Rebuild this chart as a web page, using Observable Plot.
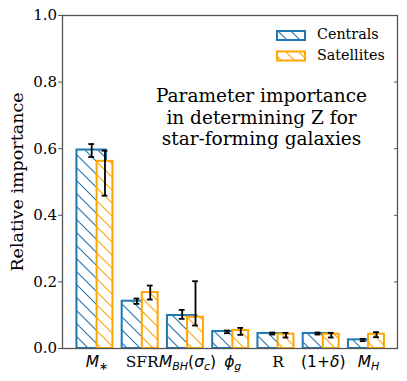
<!DOCTYPE html>
<html><head><meta charset="utf-8">
<script src="https://cdn.jsdelivr.net/npm/d3@7"></script>
<script src="https://cdn.jsdelivr.net/npm/@observablehq/plot@0.6"></script>
<style>body{margin:0;background:#fff} #chart{width:407px;height:381px}</style>
</head><body><div id="chart"></div>
<script>
const categories = ["M*", "SFR", "MBH(σc)", "φg", "R", "(1+δ)", "MH"];
const centrals     = [0.596, 0.142, 0.099, 0.051, 0.045, 0.045, 0.026];
const centralsLo   = [0.575, 0.134, 0.089, 0.046, 0.042, 0.042, 0.022];
const centralsHi   = [0.614, 0.150, 0.116, 0.054, 0.048, 0.048, 0.029];
const satellites   = [0.562, 0.168, 0.094, 0.054, 0.043, 0.043, 0.043];
const satellitesLo = [0.459, 0.147, 0.069, 0.041, 0.033, 0.033, 0.034];
const satellitesHi = [0.594, 0.189, 0.202, 0.062, 0.047, 0.047, 0.049];
const yTicks = [0, 0.2, 0.4, 0.6, 0.8, 1.0];
const seriesNames = ["Centrals", "Satellites"];
const yLabel = "Relative importance";
const annotation = "Parameter importance\nin determining Z for\nstar-forming galaxies";

const BLUE = "#1f77b4", ORANGE = "#ffa500";
const SERIF = "'DejaVu Serif', 'Liberation Serif', serif";
const rows = categories.map((c, i) => ({
  i, c,
  cv: centrals[i], clo: centralsLo[i], chi: centralsHi[i],
  sv: satellites[i], slo: satellitesLo[i], shi: satellitesHi[i]
}));
// bar geometry (in category units)
const cOff = -0.117, cHalf = 0.326, sOff = 0.177, sHalf = 0.175, cap = 0.064;

const hatch = (id, color) => `<pattern id="${id}" patternUnits="userSpaceOnUse" width="13" height="13">
  <rect width="13" height="13" fill="white"/>
  <path d="M0,0L13,13M-2,11L2,15M11,-2L15,2" stroke="${color}" stroke-width="1.1" fill="none"/>
</pattern>`;

const errStyle = {stroke: "black", strokeWidth: 1.8};

const plot = Plot.plot({
  width: 407, height: 381,
  marginLeft: 62, marginRight: 10, marginTop: 15, marginBottom: 33,
  style: `font-family: ${SERIF}; font-size: 15px; background: white; color: black; overflow: visible;`,
  x: {type: "linear", domain: [-0.762, 6.641]},
  y: {domain: [0, 1]},
  marks: [
    () => d3.create("svg:defs").html(hatch("hatchC", BLUE) + hatch("hatchS", ORANGE)).node(),
    Plot.rect(rows, {x1: d => d.i + cOff - cHalf, x2: d => d.i + cOff + cHalf, y1: 0, y2: "cv",
      fill: "url(#hatchC)", stroke: BLUE, strokeWidth: 2}),
    Plot.rect(rows, {x1: d => d.i + sOff - sHalf, x2: d => d.i + sOff + sHalf, y1: 0, y2: "sv",
      fill: "url(#hatchS)", stroke: ORANGE, strokeWidth: 2}),
    Plot.ruleX(rows, {x: d => d.i + cOff, y1: "clo", y2: "chi", ...errStyle}),
    Plot.ruleY(rows, {x1: d => d.i + cOff - cap, x2: d => d.i + cOff + cap, y: "clo", ...errStyle}),
    Plot.ruleY(rows, {x1: d => d.i + cOff - cap, x2: d => d.i + cOff + cap, y: "chi", ...errStyle}),
    Plot.ruleX(rows, {x: d => d.i + sOff, y1: "slo", y2: "shi", ...errStyle}),
    Plot.ruleY(rows, {x1: d => d.i + sOff - cap, x2: d => d.i + sOff + cap, y: "slo", ...errStyle}),
    Plot.ruleY(rows, {x1: d => d.i + sOff - cap, x2: d => d.i + sOff + cap, y: "shi", ...errStyle}),
    Plot.frame({stroke: "#555", strokeWidth: 1.3}),
    Plot.axisY({ticks: yTicks, tickFormat: d3.format(".1f"), tickSize: 4, tickPadding: 1.5, label: null, stroke: "#555", fill: "black", fontSize: 15}),
    Plot.axisY({anchor: "right", ticks: yTicks, tickSize: -4, tickFormat: () => "", label: null, stroke: "#555"}),
    Plot.axisX({ticks: d3.range(categories.length), tickSize: 0, tickPadding: 7, tickFormat: i => categories[i], label: null, fill: "black", fontSize: 15.5}),
    Plot.text([yLabel], {frameAnchor: "left", textAnchor: "middle", dx: -45, rotate: -90, text: d => d, fontSize: 17.5, fill: "black"}),
    Plot.text([annotation], {frameAnchor: "top", textAnchor: "middle", dx: 31.5, dy: 71, lineAnchor: "top", fontSize: 18.5, lineHeight: 1.17, text: d => d, fill: "black"})
  ]
});

// rich math tick labels
const sans = 'font-family="DejaVu Sans"';
const rich = {
  "M*": `<tspan ${sans} font-style="italic">M</tspan><tspan ${sans} font-size="11" dy="3">∗</tspan>`,
  "MBH(σc)": `<tspan ${sans}><tspan font-style="italic">M</tspan><tspan font-style="italic" font-size="11" dy="3">BH</tspan><tspan dy="-3">(</tspan><tspan font-style="italic">σ</tspan><tspan font-style="italic" font-size="11" dy="3">c</tspan><tspan dy="-3">)</tspan></tspan>`,
  "φg": `<tspan ${sans} font-style="italic">ϕ</tspan><tspan ${sans} font-style="italic" font-size="11" dy="3">g</tspan>`,
  "(1+δ)": `<tspan ${sans}>(1+<tspan font-style="italic">δ</tspan>)</tspan>`,
  "MH": `<tspan ${sans} font-style="italic">M</tspan><tspan ${sans} font-style="italic" font-size="11" dy="3">H</tspan>`
};
d3.select(plot).selectAll('g[aria-label="x-axis tick label"] text').each(function() {
  const t = this.textContent;
  if (rich[t]) this.innerHTML = rich[t];
});

// legend (inside plot, top right)
const svg = d3.select(plot);
const lg = svg.append("g").attr("text-anchor", "start")
  .style("font-family", SERIF).style("font-size", "14.3px");
[[BLUE, "url(#hatchC)", 31], [ORANGE, "url(#hatchS)", 51.5]].forEach(([col, fill, y], k) => {
  lg.append("rect").attr("x", 277).attr("y", y).attr("width", 28).attr("height", 9)
    .attr("fill", fill).attr("stroke", col).attr("stroke-width", 2);
  lg.append("text").attr("x", 317).attr("y", y + 8.3).attr("fill", "black").text(seriesNames[k]);
});

document.getElementById("chart").appendChild(plot);
</script></body></html>
